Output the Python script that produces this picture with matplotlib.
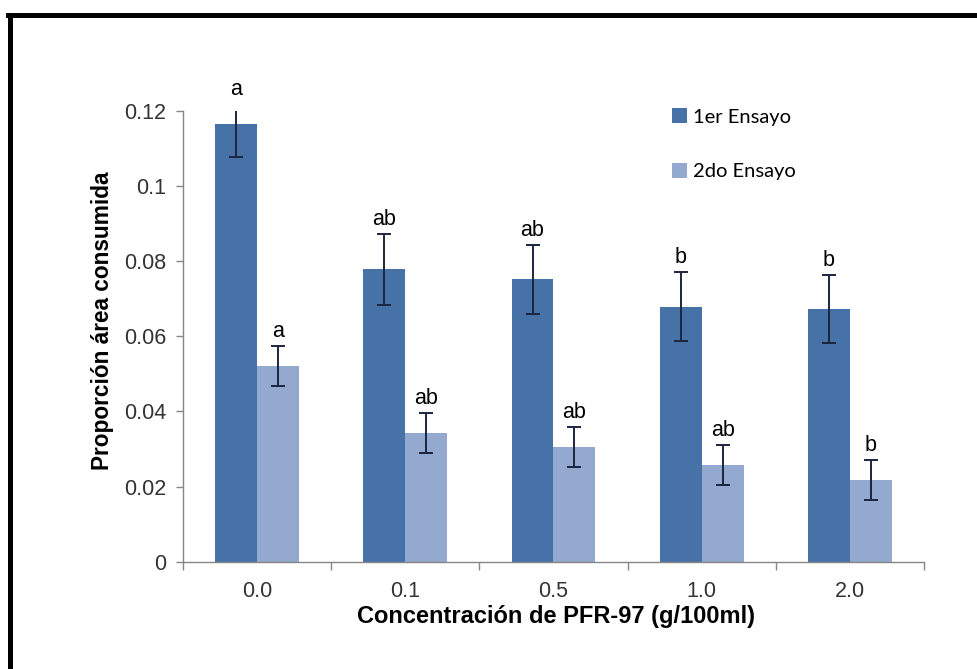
import numpy as np
import matplotlib.pyplot as plt
from matplotlib.lines import Line2D

# datos
concentraciones = ["0.0", "0.1", "0.5", "1.0", "2.0"]
ensayo1 = [0.1165, 0.0778, 0.0751, 0.0678, 0.0672]
error1 = [0.0089, 0.0094, 0.0092, 0.0092, 0.0091]
ensayo2 = [0.0521, 0.0342, 0.0305, 0.0258, 0.0218]
error2 = [0.0053, 0.0053, 0.0053, 0.0053, 0.0053]
letras1 = ["a", "ab", "ab", "b", "b"]
letras2 = ["a", "ab", "ab", "ab", "b"]

azul_oscuro = "#4672a8"
azul_claro = "#93a9cf"
color_error = "#1c2540"
gris = "#868686"
ymax = 0.12

plt.rcParams["font.family"] = ["Liberation Sans", "DejaVu Sans"]

fig = plt.figure(figsize=(9.78, 6.69), dpi=100)
ax = fig.add_axes([0.1871, 0.1604, 0.9448 - 0.1871, 0.8345 - 0.1604])

x = np.arange(len(concentraciones)) + 0.5
ancho = 0.283

ax.bar(x - ancho / 2, ensayo1, ancho, color=azul_oscuro, label="1er Ensayo", zorder=2)
ax.bar(x + ancho / 2, ensayo2, ancho, color=azul_claro, label="2do Ensayo", zorder=2)

# barras de error: línea vertical + topes solo si caen dentro del eje
for xs, ys, es in [(x - ancho / 2, ensayo1, error1), (x + ancho / 2, ensayo2, error2)]:
    ys = np.array(ys)
    es = np.array(es)
    ax.errorbar(xs, ys, yerr=es, fmt="none", ecolor=color_error,
                elinewidth=1.4, capsize=0, zorder=3)
    extremos_x = np.concatenate([xs, xs])
    extremos_y = np.concatenate([ys - es, ys + es])
    dentro = extremos_y <= ymax
    ax.plot(extremos_x[dentro], extremos_y[dentro], linestyle="none", marker="_",
            markersize=9.4, markeredgewidth=1.4, color=color_error, zorder=3)

# letras de significancia (la primera queda justo encima del eje)
for i in range(len(concentraciones)):
    y1 = min(ensayo1[i] + error1[i], ymax + 0.0017)
    ax.annotate(letras1[i], (x[i] - ancho / 2, y1),
                xytext=(0, 3), textcoords="offset points", ha="center", va="bottom",
                fontsize=15.5, color="black", annotation_clip=False)
    ax.annotate(letras2[i], (x[i] + ancho / 2, ensayo2[i] + error2[i]),
                xytext=(0, 3), textcoords="offset points", ha="center", va="bottom",
                fontsize=15.5, color="black", annotation_clip=False)

ax.set_xlim(0, len(concentraciones))
ax.set_ylim(0, ymax)
ax.set_yticks([0, 0.02, 0.04, 0.06, 0.08, 0.1, 0.12])
ax.set_yticklabels(["0", "0.02", "0.04", "0.06", "0.08", "0.1", "0.12"])
ax.set_xticks(x)
ax.set_xticklabels(concentraciones)
ax.set_xticks(np.arange(len(concentraciones) + 1), minor=True)
ax.tick_params(axis="x", which="major", length=0, pad=14, labelsize=15.5, labelcolor="#333333")
ax.tick_params(axis="x", which="minor", length=6, color=gris, width=1)
ax.tick_params(axis="y", length=5, color=gris, width=1, pad=7, labelsize=15.5, labelcolor="#333333")

for lado in ["top", "right"]:
    ax.spines[lado].set_visible(False)
for lado in ["left", "bottom"]:
    ax.spines[lado].set_color(gris)
    ax.spines[lado].set_linewidth(1)

fig.text(103 / 978, 1 - 321 / 669, "Proporción área consumida", rotation=90,
         ha="center", va="center", fontsize=16.3, fontweight="bold")
fig.text(556 / 978, 1 - 616 / 669, "Concentración de PFR-97 (g/100ml)",
         ha="center", va="center", fontsize=17, fontweight="bold")

ax.legend(loc="upper left", bbox_to_anchor=(654 / 978, 1 - 90 / 669),
          bbox_transform=fig.transFigure, frameon=False,
          handlelength=0.75, handleheight=0.75, handletextpad=0.3,
          labelspacing=1.85, prop={"family": ["Lato", "DejaVu Sans"], "size": 14.5})

# marco negro (solo borde izquierdo y superior visibles)
fig.add_artist(Line2D([10 / 978, 10 / 978], [0, 1 - 15 / 669], color="black",
                      linewidth=3.6, transform=fig.transFigure))
fig.add_artist(Line2D([8 / 978, 1], [1 - 15 / 669, 1 - 15 / 669], color="black",
                      linewidth=3.6, transform=fig.transFigure))

fig.savefig("out.png", dpi=100, facecolor="white")
